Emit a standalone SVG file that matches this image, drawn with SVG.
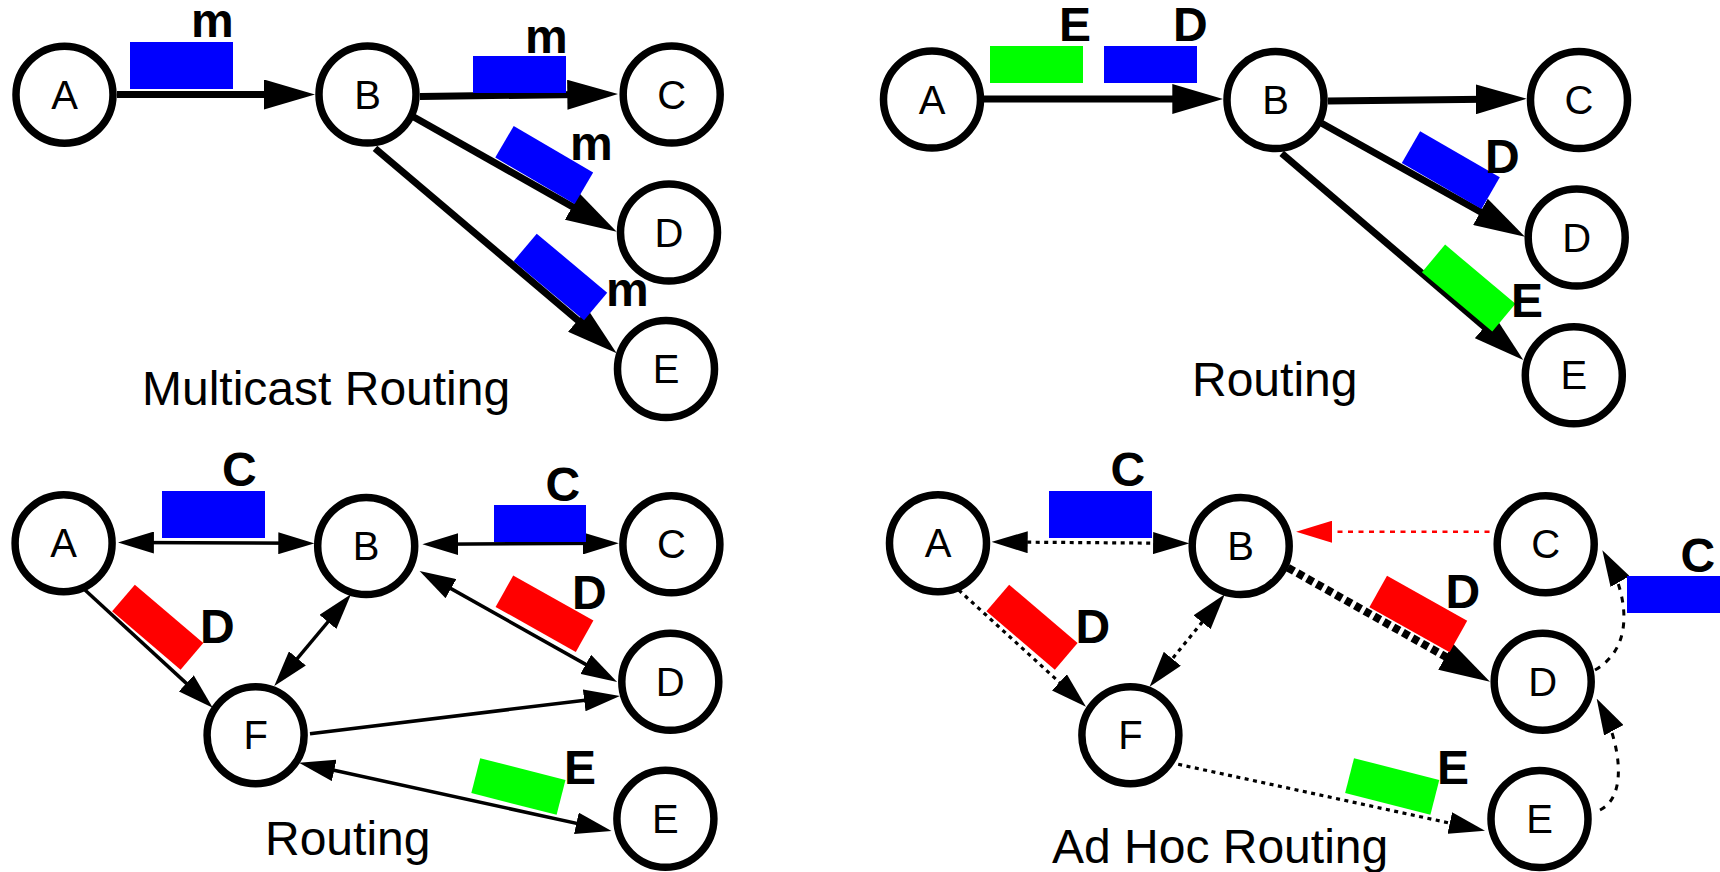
<svg xmlns="http://www.w3.org/2000/svg" width="1720" height="872" viewBox="0 0 1720 872">
<style>
.node circle{fill:#fff;stroke:#000;stroke-width:7.5}
.node text{font-family:"Liberation Sans",Arial,sans-serif;font-size:40px;text-anchor:middle;fill:#000}
.thick{stroke:#000;stroke-width:7;fill:none}
.thin{stroke:#000;stroke-width:3.5;fill:none}
.dot{stroke:#000;stroke-width:3.2;fill:none;stroke-dasharray:4 4.5}
.dash{stroke:#000;stroke-width:3;fill:none;stroke-dasharray:6 7}
.thickdash{stroke:#000;stroke-width:8;fill:none;stroke-dasharray:7 4}
.reddot{stroke:#f00;stroke-width:2.5;fill:none;stroke-dasharray:5 5.5}
.lbl{font-family:"Liberation Sans",Arial,sans-serif;font-size:48px;font-weight:bold;fill:#000}
.title{font-family:"Liberation Sans",Arial,sans-serif;font-size:48px;fill:#000}
.blue{fill:#0000ff}.green{fill:#00ff00}.red{fill:#ff0000}
</style>
<defs>
<marker id="ab" markerUnits="userSpaceOnUse" markerWidth="51" markerHeight="30" refX="31" refY="15" orient="auto"><path d="M0,0 L51,15 L0,30 z" fill="#000"/></marker>
<marker id="as" markerUnits="userSpaceOnUse" markerWidth="36" markerHeight="22" refX="26" refY="11" orient="auto-start-reverse"><path d="M0,0 L36,11 L0,22 z" fill="#000"/></marker>
<marker id="ar" markerUnits="userSpaceOnUse" markerWidth="36" markerHeight="22" refX="26" refY="11" orient="auto"><path d="M0,0 L36,11 L0,22 z" fill="#f00"/></marker>
</defs>

<g id="connectors">
<!-- top-left -->
<line class="thick" x1="117" y1="94.5" x2="295" y2="94.5" marker-end="url(#ab)"/>
<line class="thick" x1="420" y1="96.5" x2="598.3" y2="94.25" marker-end="url(#ab)"/>
<line class="thick" x1="413.3" y1="116.7" x2="599.3" y2="221.9" marker-end="url(#ab)"/>
<line class="thick" x1="375" y1="148.3" x2="601.4" y2="340.4" marker-end="url(#ab)"/>
<!-- top-right -->
<line class="thick" x1="984" y1="99" x2="1203.3" y2="99" marker-end="url(#ab)"/>
<line class="thick" x1="1328" y1="101" x2="1506.7" y2="98.9" marker-end="url(#ab)"/>
<line class="thick" x1="1321.7" y1="123.3" x2="1507.5" y2="227" marker-end="url(#ab)"/>
<line class="thick" x1="1281.7" y1="153.3" x2="1508.1" y2="347" marker-end="url(#ab)"/>
<!-- bottom-left -->
<line class="thin" x1="127.9" y1="542.5" x2="304.3" y2="543.3" marker-start="url(#as)" marker-end="url(#as)"/>
<line class="thin" x1="432.4" y1="544.3" x2="608.8" y2="543.3" marker-start="url(#as)" marker-end="url(#as)"/>
<line class="thin" x1="85" y1="590" x2="205.4" y2="700.9" marker-end="url(#as)"/>
<line class="thin" x1="344.6" y1="602" x2="280.7" y2="678.3" marker-start="url(#as)" marker-end="url(#as)"/>
<line class="thin" x1="428.3" y1="575.9" x2="608.4" y2="677.1" marker-start="url(#as)" marker-end="url(#as)"/>
<line class="thin" x1="310" y1="733.7" x2="610" y2="697.2" marker-end="url(#as)"/>
<line class="thin" x1="308.8" y1="764.8" x2="601.8" y2="828.9" marker-start="url(#as)" marker-end="url(#as)"/>
<!-- bottom-right -->
<line class="dot" x1="1001.7" y1="542" x2="1179.1" y2="543.3" marker-start="url(#as)" marker-end="url(#as)"/>
<line class="reddot" x1="1500" y1="531.7" x2="1306.1" y2="531.7" marker-end="url(#ar)"/>
<line class="dot" x1="958.7" y1="590" x2="1078.6" y2="699.9" marker-end="url(#as)"/>
<line class="dot" x1="1218.5" y1="602.1" x2="1155.9" y2="678.9" marker-start="url(#as)" marker-end="url(#as)"/>
<line class="thickdash" x1="1287.9" y1="567.7" x2="1472.6" y2="671.9" marker-end="url(#ab)"/>
<line class="dot" x1="1178.2" y1="764.3" x2="1475.2" y2="828.6" marker-end="url(#as)"/>
<path class="dash" d="M1600,810 C1630,795 1618,738 1601.4,707.4" marker-end="url(#as)"/>
<path class="dash" d="M1595,670 C1638,645 1625,590 1607.3,558.9" marker-end="url(#as)"/>
</g>

<g id="packets">
<rect class="blue" x="130" y="42" width="103" height="47"/>
<rect class="blue" x="473" y="56" width="93" height="37"/>
<rect class="blue" x="-46" y="-18.3" width="92" height="36.6" transform="translate(544.2,165) rotate(30.3)"/>
<rect class="blue" x="-46" y="-18" width="92" height="36" transform="translate(560.4,277) rotate(40)"/>

<rect class="green" x="990" y="46" width="93" height="37"/>
<rect class="blue" x="1104" y="46" width="93" height="37"/>
<rect class="blue" x="-46" y="-18.3" width="92" height="36.6" transform="translate(1450.8,170.2) rotate(30)"/>
<rect class="green" x="-46" y="-18" width="92" height="36" transform="translate(1468.7,288) rotate(40.1)"/>

<rect class="blue" x="162" y="491" width="103" height="47"/>
<rect class="blue" x="494" y="505" width="92" height="37"/>
<rect class="red" x="-45" y="-17.5" width="90" height="35" transform="translate(157.7,627.2) rotate(40.5)"/>
<rect class="red" x="-46" y="-18" width="92" height="36" transform="translate(544.5,613.7) rotate(29.3)"/>
<rect class="green" x="-44" y="-18" width="88" height="36" transform="translate(518.4,786.5) rotate(14.3)"/>

<rect class="blue" x="1049" y="491" width="103" height="47"/>
<rect class="red" x="-45" y="-17.5" width="90" height="35" transform="translate(1032,627.2) rotate(40.5)"/>
<rect class="red" x="-46" y="-18" width="92" height="36" transform="translate(1418.3,614) rotate(29.3)"/>
<rect class="green" x="-44" y="-18" width="88" height="36" transform="translate(1392.2,786.5) rotate(14.3)"/>
<rect class="blue" x="1627" y="576" width="100" height="37"/>
</g>

<g id="labels">
<text class="lbl" x="191" y="37">m</text>
<text class="lbl" x="525" y="53">m</text>
<text class="lbl" x="570" y="160">m</text>
<text class="lbl" x="606" y="306">m</text>
<text class="lbl" x="1059" y="41">E</text>
<text class="lbl" x="1173" y="41">D</text>
<text class="lbl" x="1485" y="173">D</text>
<text class="lbl" x="1511" y="317">E</text>
<text class="lbl" x="222" y="486">C</text>
<text class="lbl" x="545.5" y="501">C</text>
<text class="lbl" x="200" y="643">D</text>
<text class="lbl" x="572" y="609">D</text>
<text class="lbl" x="564" y="784">E</text>
<text class="lbl" x="1110.5" y="486">C</text>
<text class="lbl" x="1075.5" y="643">D</text>
<text class="lbl" x="1445.5" y="608">D</text>
<text class="lbl" x="1437" y="784">E</text>
<text class="lbl" x="1680.5" y="572">C</text>
<text class="title" x="142" y="405">Multicast Routing</text>
<text class="title" x="1192" y="396">Routing</text>
<text class="title" x="265" y="855">Routing</text>
<text class="title" x="1052" y="863">Ad Hoc Routing</text>
</g>

<g id="tl-A" class="node"><circle cx="64.5" cy="94.7" r="48.5"/><text x="64.5" y="108.7">A</text></g>
<g id="tl-B" class="node"><circle cx="367.5" cy="94.5" r="48.5"/><text x="367.5" y="108.5">B</text></g>
<g id="tl-C" class="node"><circle cx="671.7" cy="94.5" r="48.5"/><text x="671.7" y="108.5">C</text></g>
<g id="tl-D" class="node"><circle cx="669" cy="232.5" r="48.5"/><text x="669" y="246.5">D</text></g>
<g id="tl-E" class="node"><circle cx="666" cy="369" r="48.5"/><text x="666" y="383">E</text></g>

<g id="tr-A" class="node"><circle cx="932" cy="99.5" r="48.5"/><text x="932" y="113.5">A</text></g>
<g id="tr-B" class="node"><circle cx="1275.5" cy="100" r="48.5"/><text x="1275.5" y="114">B</text></g>
<g id="tr-C" class="node"><circle cx="1579" cy="100" r="48.5"/><text x="1579" y="114">C</text></g>
<g id="tr-D" class="node"><circle cx="1576.7" cy="237.5" r="48.5"/><text x="1576.7" y="251.5">D</text></g>
<g id="tr-E" class="node"><circle cx="1573.8" cy="375.3" r="48.5"/><text x="1573.8" y="389.3">E</text></g>

<g id="bl-A" class="node"><circle cx="63.6" cy="543.2" r="48.5"/><text x="63.6" y="557.2">A</text></g>
<g id="bl-B" class="node"><circle cx="366.2" cy="546" r="48.5"/><text x="366.2" y="560">B</text></g>
<g id="bl-C" class="node"><circle cx="671.4" cy="544.3" r="48.5"/><text x="671.4" y="558.3">C</text></g>
<g id="bl-D" class="node"><circle cx="670.3" cy="681.8" r="48.5"/><text x="670.3" y="695.8">D</text></g>
<g id="bl-F" class="node"><circle cx="255.6" cy="735.2" r="48.5"/><text x="255.6" y="749.2">F</text></g>
<g id="bl-E" class="node"><circle cx="665.4" cy="818.8" r="48.5"/><text x="665.4" y="832.8">E</text></g>

<g id="br-A" class="node"><circle cx="938" cy="543.2" r="48.5"/><text x="938" y="557.2">A</text></g>
<g id="br-B" class="node"><circle cx="1240.7" cy="546" r="48.5"/><text x="1240.7" y="560">B</text></g>
<g id="br-C" class="node"><circle cx="1545.7" cy="544.2" r="48.5"/><text x="1545.7" y="558.2">C</text></g>
<g id="br-D" class="node"><circle cx="1542.7" cy="681.7" r="48.5"/><text x="1542.7" y="695.7">D</text></g>
<g id="br-F" class="node"><circle cx="1130.4" cy="735.2" r="48.5"/><text x="1130.4" y="749.2">F</text></g>
<g id="br-E" class="node"><circle cx="1539.5" cy="819" r="48.5"/><text x="1539.5" y="833">E</text></g>
</svg>
